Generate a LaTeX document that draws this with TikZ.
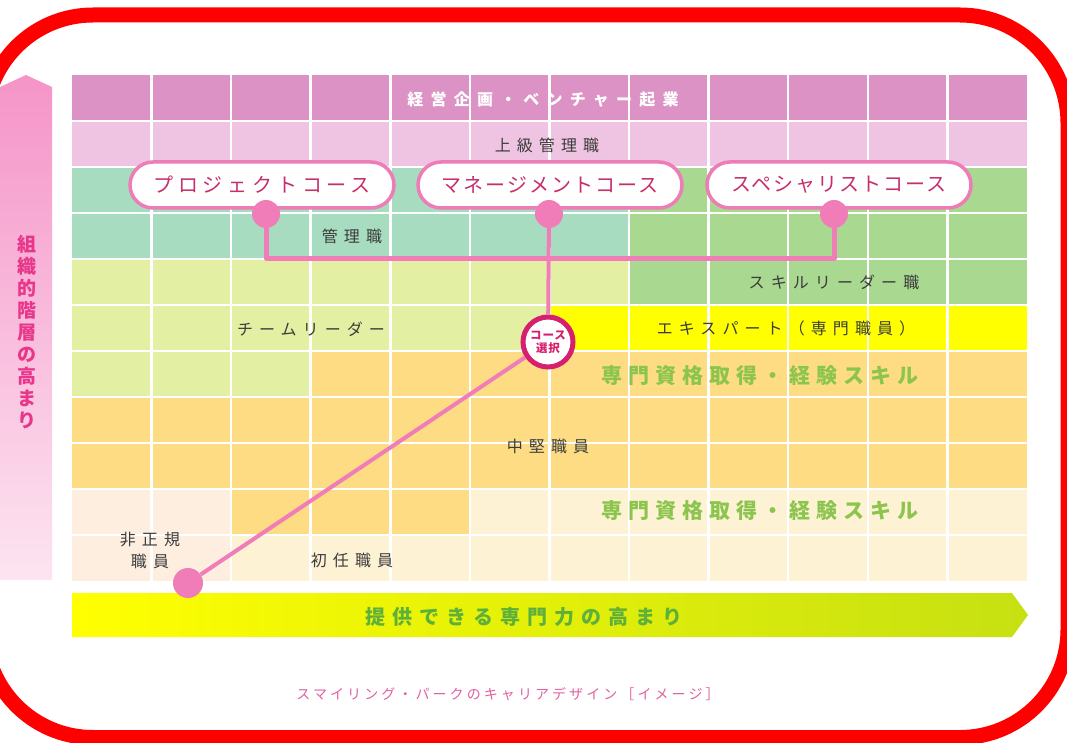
\documentclass[tikz,border=0pt]{standalone}
\usepackage{fontspec}
\setmainfont{Noto Sans CJK JP}
\usetikzlibrary{shapes,arrows,positioning,calc}

\definecolor{frameRed}{HTML}{FF0000}
\definecolor{rowTop}{HTML}{DC92C4}
\definecolor{rowPink}{HTML}{EFC4E2}
\definecolor{rowTeal}{HTML}{A8DCC0}
\definecolor{rowGreen}{HTML}{A9D890}
\definecolor{rowLime}{HTML}{E3F0A3}
\definecolor{rowYellow}{HTML}{FFFF00}
\definecolor{rowOrange}{HTML}{FDDC84}
\definecolor{rowCream}{HTML}{FEF2D4}
\definecolor{rowCreamL}{HTML}{FDEEE0}
\definecolor{labelGray}{HTML}{3C3C3C}
\definecolor{skillGreen}{HTML}{8CC54E}
\definecolor{barYellow}{HTML}{FFFF00}
\definecolor{barMid}{HTML}{EEF400}
\definecolor{barLime}{HTML}{C6E012}
\definecolor{barText}{HTML}{5EB03A}
\definecolor{courseLine}{HTML}{EC7DB6}
\definecolor{courseText}{HTML}{C62F6E}
\definecolor{linkPink}{HTML}{F07DB8}
\definecolor{choiceRed}{HTML}{D61F6E}
\definecolor{arrowPinkA}{HTML}{F594C8}
\definecolor{arrowPinkB}{HTML}{F9C4DF}
\definecolor{arrowPinkC}{HTML}{FDE4F1}
\definecolor{verticalText}{HTML}{E8378B}
\definecolor{captionPink}{HTML}{E0609F}

\tikzset{
  gridline/.style={white, line width=2.5pt},
  rowlabel/.style={inner sep=0pt, text=labelGray,
    font=\fontsize{16}{22}\selectfont\addfontfeature{LetterSpace=38}},
  skilllabel/.style={inner sep=0pt, text=skillGreen,
    font=\fontsize{21}{23}\selectfont\bfseries\addfontfeature{LetterSpace=28}},
  coursebox/.style={draw=courseLine, line width=3.5pt, fill=white, rounded corners=23pt,
    minimum width=264pt, minimum height=46pt, text=courseText,
    font=\fontsize{20}{22}\selectfont\addfontfeature{LetterSpace=10}},
  pinkdot/.style={circle, fill=linkPink, minimum size=28pt, inner sep=0pt},
  pinkline/.style={linkPink, line width=5pt},
}

\begin{document}
\begin{tikzpicture}[x=1pt, y=-1pt]
\useasboundingbox (0,0) rectangle (1067,743);
\clip (0,0) rectangle (1067,743);

% grid cells
\fill[rowTop] (72,75) rectangle (1027,121);
\fill[rowPink] (72,121) rectangle (1027,167);
\fill[rowTeal] (72,167) rectangle (629,259);
\fill[rowGreen] (629,167) rectangle (1027,305);
\fill[rowLime] (72,259) rectangle (629,305);
\fill[rowLime] (72,305) rectangle (550,351);
\fill[rowYellow] (550,305) rectangle (1027,351);
\fill[rowLime] (72,351) rectangle (311,397);
\fill[rowOrange] (311,351) rectangle (1027,397);
\fill[rowOrange] (72,397) rectangle (1027,489);
\fill[rowCreamL] (72,489) rectangle (231,581);
\fill[rowOrange] (231,489) rectangle (470,535);
\fill[rowCream] (470,489) rectangle (1027,535);
\fill[rowCream] (231,535) rectangle (1027,581);
\foreach \i in {1,...,11}
  \draw[gridline] ({72+79.58*\i},75) -- ({72+79.58*\i},581);
\foreach \j in {1,...,10}
  \draw[gridline] (72,{75+46*\j}) -- (1027,{75+46*\j});

% row labels
\node[rowlabel, text=white, font=\fontsize{16}{18}\selectfont\bfseries\addfontfeature{LetterSpace=45}] (lblTop) at (543,100) {経営企画・ベンチャー起業};
\node[rowlabel] (lblSenior) at (547,145) {上級管理職};
\node[rowlabel] (lblMgr) at (352,236) {管理職};
\node[rowlabel] (lblSkillLead) at (834,282) {スキルリーダー職};
\node[rowlabel] (lblTeam) at (311,329) {チームリーダー};
\node[rowlabel] (lblExpert) at (786,328) {エキスパート（専門職員）};
\node[skilllabel] (lblSkillA) at (760,376) {専門資格取得・経験スキル};
\node[rowlabel] (lblMid) at (548,446) {中堅職員};
\node[skilllabel] (lblSkillB) at (760,511) {専門資格取得・経験スキル};
\node[rowlabel, align=center] (lblIrreg) at (150,550) {非正規\\職員};
\node[rowlabel] (lblNew) at (352,560) {初任職員};

% bottom arrow
\shade[left color=barYellow, middle color=barMid, right color=barLime]
  (72,593) -- (1012,593) -- (1028,615) -- (1012,637) -- (72,637) -- cycle;
\node[text=barText, font=\fontsize{20}{22}\selectfont\bfseries\addfontfeature{LetterSpace=35}] (barLabel) at (524,617) {提供できる専門力の高まり};

% left arrow
\shade[top color=arrowPinkA, middle color=arrowPinkB, bottom color=arrowPinkC]
  (0,87) -- (26,75) -- (52,87) -- (52,580) -- (0,580) -- cycle;
\node[text=verticalText, align=center, font=\fontsize{19}{22}\selectfont\bfseries] (levelLabel) at (27,332) {組\\織\\的\\階\\層\\の\\高\\ま\\り};

% courses
\node[coursebox, font=\fontsize{20}{22}\selectfont\addfontfeature{LetterSpace=24}] (projCourse) at (262,185) {プロジェクトコース};
\node[coursebox] (mgmtCourse) at (550,185) {マネージメントコース};
\node[coursebox] (specCourse) at (839,185) {スペシャリストコース};

\node[pinkdot] (projDot) at (266,214) {};
\node[pinkdot] (mgmtDot) at (549,214) {};
\node[pinkdot] (specDot) at (834,214) {};
\node[pinkdot, minimum size=30pt] (startDot) at (188,583) {};

\node[circle, draw=choiceRed, line width=5pt, fill=white, minimum size=50pt, inner sep=0pt,
  align=center, text=choiceRed, font=\fontsize{11.5}{13}\selectfont\bfseries\addfontfeature{LetterSpace=8}] (choice) at (548,342) {コース\\選択};

% connectors
\coordinate (projJoin) at (266,258);
\coordinate (specJoin) at (834,258);
\draw[pinkline, line join=round] (projDot) -- (projJoin) -- (specJoin) -- (specDot);
\draw[pinkline, line width=4pt] (mgmtDot) -- (choice);
\draw[pinkline, line width=4pt] (startDot) -- (choice);

% caption
\node[text=captionPink, font=\fontsize{14}{16}\selectfont\addfontfeature{LetterSpace=22}] (caption) at (508,694) {スマイリング・パークのキャリアデザイン［イメージ］};

% red frame
\draw[frameRed, line width=15pt, rounded corners=108pt] (-15,15) rectangle (1068,737.5);
\end{tikzpicture}
\end{document}
